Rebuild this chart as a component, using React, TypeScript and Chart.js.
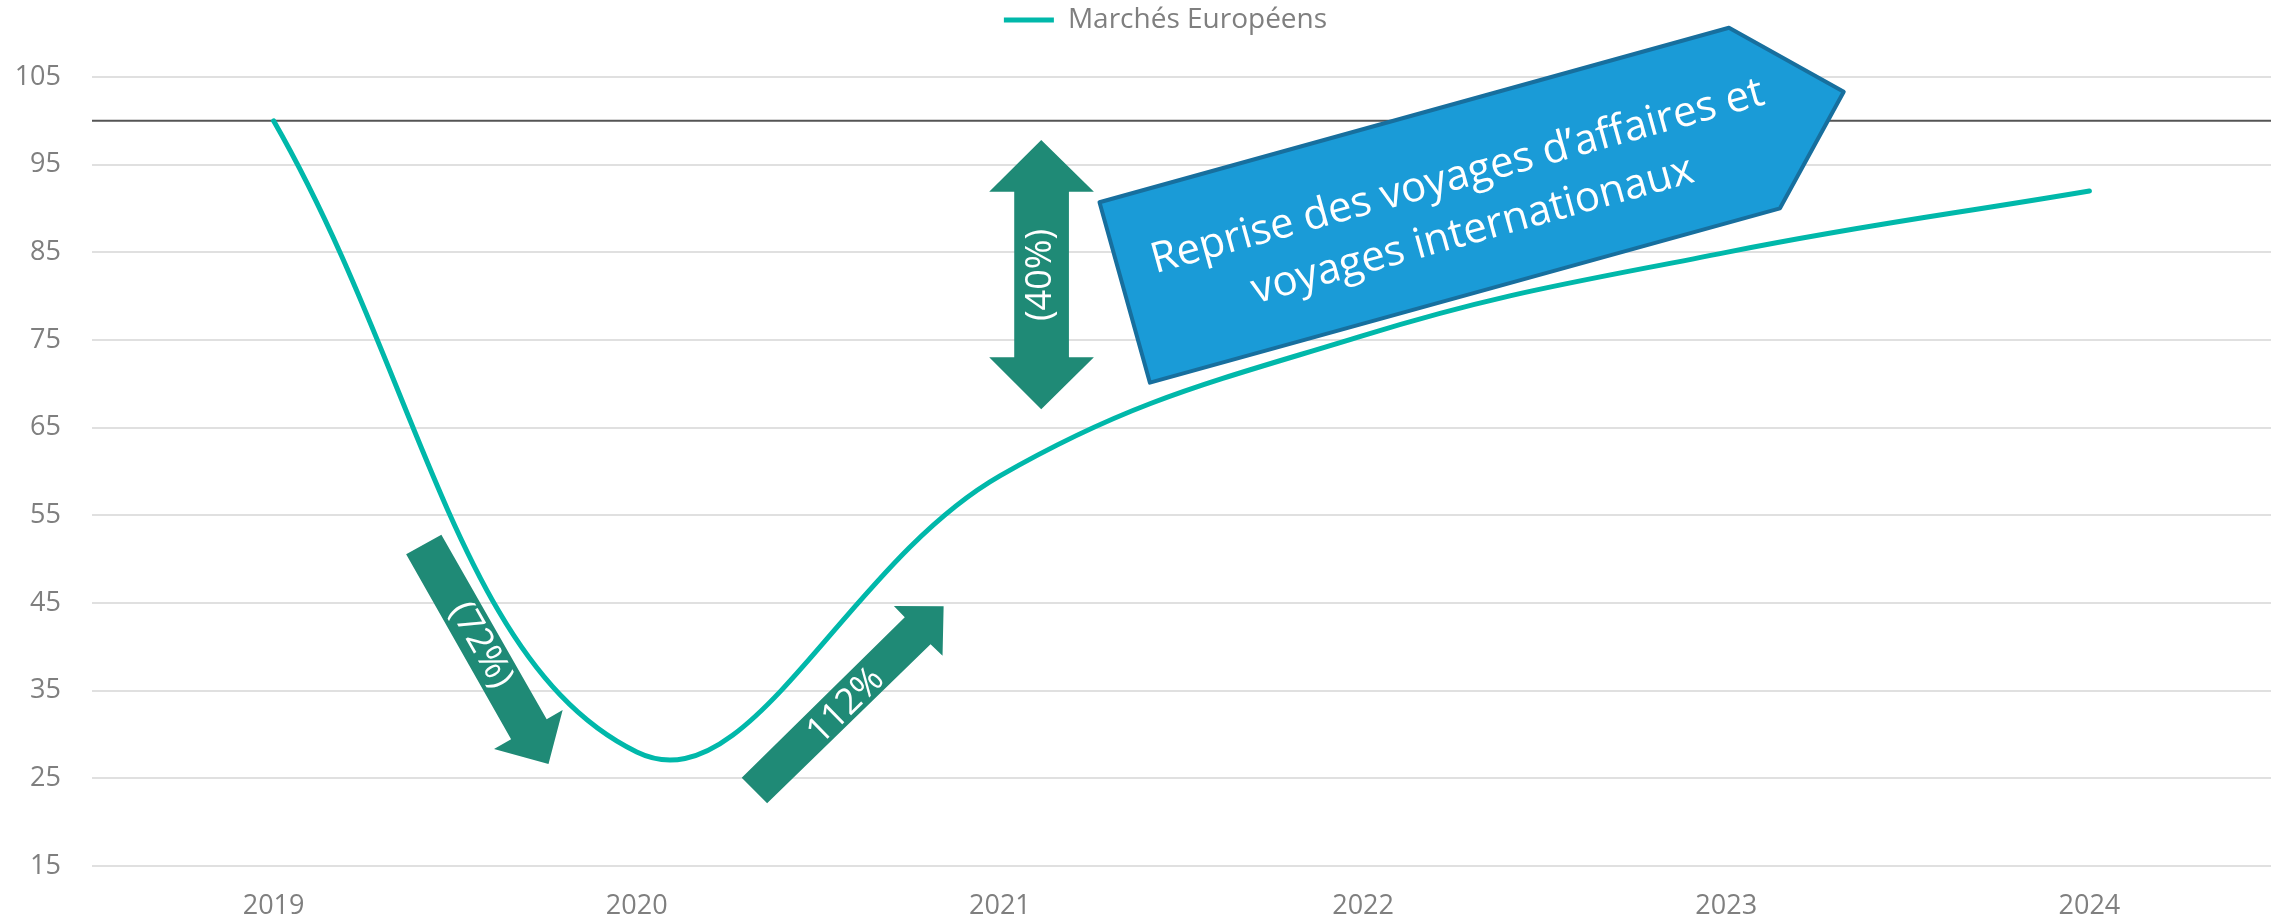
import React, { useEffect, useRef } from 'react';
import { Chart, registerables } from 'chart.js';

Chart.register(...registerables);

// ---- Data ----
const YEARS = ['2019', '2020', '2021', '2022', '2023', '2024'];
const SERIES_LABEL = 'Marchés Européens';
const EUROPEAN_MARKETS = [100, 28, 59.5, 75.5, 85, 92];
const REFERENCE_LEVEL = 100;
const Y_MIN = 15;
const Y_MAX = 105;
const Y_STEP = 10;

// ---- Annotation texts ----
const CALLOUT_LINES = ['Reprise des voyages d’affaires et', 'voyages internationaux'];
const DOWN_LABEL = '(72%)';
const UP_LABEL = '112%';
const GAP_LABEL = '(40%)';

// ---- Annotation geometry, in (category index, value) units ----
const DOWN_ARROW: [number, number][] = [
  [0.365, 50.56], [0.462, 52.79], [0.752, 31.74], [0.796, 32.8],
  [0.757, 26.64], [0.607, 28.35], [0.654, 29.46],
];
const UP_ARROW: [number, number][] = [
  [1.289, 25.08], [1.359, 22.16], [1.809, 40.29], [1.842, 38.99],
  [1.845, 44.63], [1.708, 44.66], [1.738, 43.37],
];
const GAP_ARROW: [number, number][] = [
  [2.1138, 97.81], [2.2588, 91.92], [2.19, 91.92], [2.19, 73.03], [2.2588, 73.03],
  [2.1138, 67.1], [1.9705, 73.03], [2.0394, 73.03], [2.0394, 91.92], [1.9705, 91.92],
];
const CALLOUT_SHAPE: [number, number][] = [
  [2.2742, 90.71], [4.0075, 110.62], [4.3235, 103.32], [4.1479, 90.02], [2.413, 70.13],
];
const DOWN_LABEL_POS: [number, number, number] = [0.571, 40.21, 60.3];
const UP_LABEL_POS: [number, number, number] = [1.576, 33.25, -44.5];
const GAP_LABEL_POS: [number, number, number] = [2.1138, 82.42, -90];
const CALLOUT_TEXT_POS: [number, number, number] = [3.29, 89.2, -15.5];

const TEAL = '#00b8aa';
const ARROW_GREEN = '#1f8a76';
const CALLOUT_FILL = '#1a9bd7';
const CALLOUT_STROKE = '#176f9e';
const AXIS_TEXT = '#7f7f7f';
const FONT = "'Open Sans', 'DejaVu Sans', sans-serif";

const annotationPlugin = {
  id: 'annotations',
  beforeDatasetsDraw(chart: any) {
    const { ctx, chartArea, scales } = chart;
    const y = scales.y.getPixelForValue(REFERENCE_LEVEL);
    ctx.save();
    ctx.strokeStyle = '#555555';
    ctx.lineWidth = 2;
    ctx.beginPath();
    ctx.moveTo(chartArea.left, y);
    ctx.lineTo(chartArea.right, y);
    ctx.stroke();
    ctx.restore();
  },
  afterDatasetsDraw(chart: any) {
    const { ctx, scales } = chart;
    const px = (p: [number, number]) => [scales.x.getPixelForValue(p[0]), scales.y.getPixelForValue(p[1])];
    const poly = (pts: [number, number][], fill: string, stroke?: string, lw?: number) => {
      ctx.beginPath();
      pts.forEach((p, i) => {
        const [x, y] = px(p);
        if (i === 0) ctx.moveTo(x, y);
        else ctx.lineTo(x, y);
      });
      ctx.closePath();
      ctx.fillStyle = fill;
      ctx.fill();
      if (stroke) {
        ctx.strokeStyle = stroke;
        ctx.lineWidth = lw || 1;
        ctx.lineJoin = 'round';
        ctx.stroke();
      }
    };
    const text = (lines: string[], pos: [number, number, number], size: number, lineH: number) => {
      const [x, y] = px([pos[0], pos[1]]);
      ctx.save();
      ctx.translate(x, y);
      ctx.rotate((pos[2] * Math.PI) / 180);
      ctx.fillStyle = '#ffffff';
      ctx.font = `${size}px ${FONT}`;
      ctx.textAlign = 'center';
      ctx.textBaseline = lines.length > 1 ? 'alphabetic' : 'middle';
      const start = -((lines.length - 1) * lineH) / 2;
      lines.forEach((l, i) => ctx.fillText(l, 0, start + i * lineH));
      ctx.restore();
    };
    ctx.save();
    poly(DOWN_ARROW, ARROW_GREEN);
    poly(UP_ARROW, ARROW_GREEN);
    poly(GAP_ARROW, ARROW_GREEN);
    poly(CALLOUT_SHAPE, CALLOUT_FILL, CALLOUT_STROKE, 4);
    text([DOWN_LABEL], DOWN_LABEL_POS, 36, 0);
    text([UP_LABEL], UP_LABEL_POS, 36, 0);
    text([GAP_LABEL], GAP_LABEL_POS, 36, 0);
    text(CALLOUT_LINES, CALLOUT_TEXT_POS, 42, 56);
    ctx.restore();
  },
};

const LEGEND_SHIFT = 30;
const legendPlugin = {
  id: 'legendTweak',
  beforeInit(chart: any) {
    const legend = chart.legend;
    if (!legend) return;
    const origFit = legend.fit;
    legend.fit = function () {
      origFit.call(this);
      this.height = 77;
    };
    const origDraw = legend.draw;
    legend.draw = function (...args: any[]) {
      const ctx = this.ctx;
      ctx.save();
      ctx.translate(LEGEND_SHIFT, 0);
      origDraw.apply(this, args);
      ctx.restore();
    };
  },
};

export default function App() {
  const canvasRef = useRef<HTMLCanvasElement | null>(null);

  useEffect(() => {
    document.body.style.margin = '0';
    document.body.style.overflow = 'hidden';
    const canvas = canvasRef.current;
    if (!canvas) return;
    const chart = new Chart(canvas, {
      type: 'line',
      data: {
        labels: YEARS,
        datasets: [
          {
            label: SERIES_LABEL,
            data: EUROPEAN_MARKETS,
            borderColor: TEAL,
            backgroundColor: TEAL,
            borderWidth: 5,
            borderCapStyle: 'round',
            pointRadius: 0,
            pointHoverRadius: 0,
            tension: 0.4,
            fill: false,
          },
        ],
      },
      options: {
        responsive: false,
        animation: false,
        layout: { padding: { left: 0, right: 16, top: 0, bottom: 0 } },
        plugins: {
          legend: {
            position: 'top',
            labels: {
              usePointStyle: true,
              pointStyle: 'line',
              pointStyleWidth: 50,
              padding: 6,
              color: AXIS_TEXT,
              font: { family: FONT, size: 28 },
            },
          },
          tooltip: { enabled: false },
        },
        scales: {
          x: {
            type: 'category',
            offset: true,
            grid: { display: false, drawTicks: false },
            border: { display: false },
            ticks: { color: AXIS_TEXT, font: { family: FONT, size: 27 }, padding: 24, maxRotation: 0 },
            afterFit: (scale: any) => {
              scale.height = 55;
            },
          },
          y: {
            min: Y_MIN,
            max: Y_MAX,
            grid: { color: '#e0e0e0', lineWidth: 2, drawTicks: false },
            border: { display: false },
            ticks: { stepSize: Y_STEP, color: AXIS_TEXT, font: { family: FONT, size: 27 }, padding: 31 },
            afterFit: (scale: any) => {
              scale.width = 92;
            },
          },
        },
      },
      plugins: [annotationPlugin, legendPlugin],
    } as any);
    return () => chart.destroy();
  }, []);

  return <canvas ref={canvasRef} width={2287} height={921} style={{ display: 'block' }} />;
}
